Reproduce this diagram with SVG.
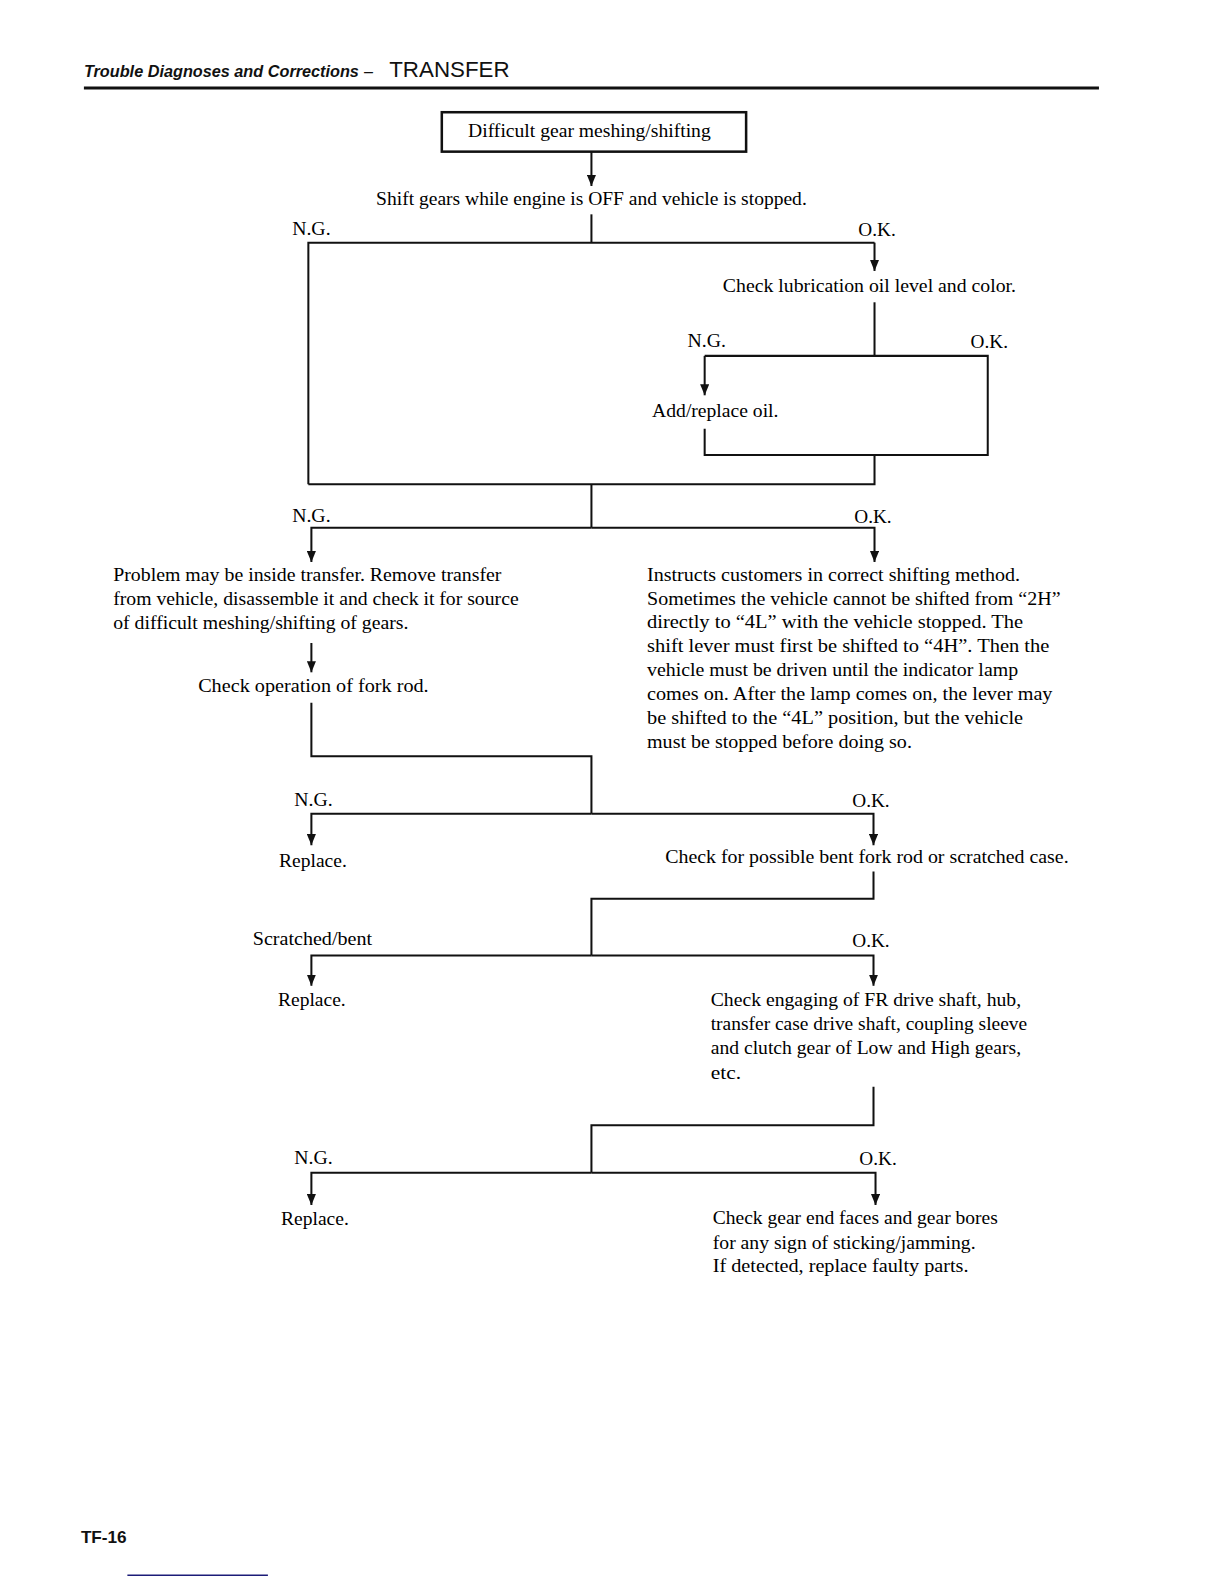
<svg xmlns="http://www.w3.org/2000/svg" width="1224" height="1584" viewBox="0 0 1224 1584">
<style>
.t{font-family:"Liberation Serif","Times New Roman",serif;font-size:18px;fill:#000}
.c{fill:none;stroke:#111;stroke-width:2}
.a{fill:none;stroke:#111;stroke-width:2;marker-end:url(#ah)}
</style>
<defs>
<marker id="ah" markerUnits="userSpaceOnUse" markerWidth="11" markerHeight="9" refX="10" refY="5" orient="auto" viewBox="0 0 10 10" preserveAspectRatio="none">
<path d="M0,0 L10,5 L0,10 z" fill="#111"/>
</marker>
</defs>
<rect width="1224" height="1584" fill="#fff"/>
<g transform="scale(1.011)">
<g id="header">
<text x="83" y="76" font-family="Liberation Sans,Arial,sans-serif" font-size="16" font-weight="bold" font-style="italic" fill="#111" textLength="272" lengthAdjust="spacingAndGlyphs">Trouble Diagnoses and Corrections</text>
<text x="360" y="76" font-family="Liberation Sans,Arial,sans-serif" font-size="16" fill="#111">–</text>
<text x="385" y="76" font-family="Liberation Sans,Arial,sans-serif" font-size="21" fill="#111" textLength="119" lengthAdjust="spacingAndGlyphs">TRANSFER</text>
<line x1="83" y1="87" x2="1087" y2="87" stroke="#111" stroke-width="3"/>
</g>
<g id="connectors">
<path class="a" d="M585,150 V184"/>
<path class="c" d="M585,212 V240"/>
<path class="c" d="M305,479 V240 H865"/>
<path class="a" d="M865,240 V268"/>
<path class="c" d="M865,299 V352"/>
<path class="c" d="M697,424 V450 H977 V352 H697"/>
<path class="a" d="M697,352 V391"/>
<path class="c" d="M865,450 V479 H305"/>
<path class="c" d="M585,479 V522"/>
<path class="a" d="M585,522 H308 V556"/>
<path class="a" d="M585,522 H865 V556"/>
<path class="a" d="M308,636 V665"/>
<path class="c" d="M308,695 V748 H585 V805"/>
<path class="a" d="M585,805 H308 V836"/>
<path class="a" d="M585,805 H864 V836"/>
<path class="c" d="M864,862 V889 H585 V945"/>
<path class="a" d="M585,945 H308 V975"/>
<path class="a" d="M585,945 H864 V975"/>
<path class="c" d="M864,1075 V1113 H585 V1160"/>
<path class="a" d="M585,1160 H308 V1192"/>
<path class="a" d="M585,1160 H866 V1192"/>
</g>
<g id="n_start">
<rect x="437" y="111" width="301" height="39" fill="none" stroke="#111" stroke-width="2.5"/>
<text class="t" x="583" y="136" text-anchor="middle" textLength="240" lengthAdjust="spacingAndGlyphs">Difficult gear meshing/shifting</text>
</g>
<g id="n_shift">
<text class="t" x="372" y="203" textLength="426" lengthAdjust="spacingAndGlyphs">Shift gears while engine is OFF and vehicle is stopped.</text>
<text class="t" x="289" y="232" textLength="38" lengthAdjust="spacingAndGlyphs">N.G.</text>
<text class="t" x="849" y="233" textLength="37" lengthAdjust="spacingAndGlyphs">O.K.</text>
</g>
<g id="n_lube">
<text class="t" x="715" y="289" textLength="290" lengthAdjust="spacingAndGlyphs">Check lubrication oil level and color.</text>
<text class="t" x="680" y="343" textLength="38" lengthAdjust="spacingAndGlyphs">N.G.</text>
<text class="t" x="960" y="344" textLength="37" lengthAdjust="spacingAndGlyphs">O.K.</text>
</g>
<g id="n_oil">
<text class="t" x="645" y="412" textLength="125" lengthAdjust="spacingAndGlyphs">Add/replace oil.</text>
</g>
<g id="n_labels2">
<text class="t" x="289" y="516" textLength="38" lengthAdjust="spacingAndGlyphs">N.G.</text>
<text class="t" x="845" y="517" textLength="37" lengthAdjust="spacingAndGlyphs">O.K.</text>
</g>
<g id="n_problem">
<text class="t" x="112" y="575" textLength="384" lengthAdjust="spacingAndGlyphs">Problem may be inside transfer. Remove transfer</text>
<text class="t" x="112" y="598" textLength="401" lengthAdjust="spacingAndGlyphs">from vehicle, disassemble it and check it for source</text>
<text class="t" x="112" y="622" textLength="292" lengthAdjust="spacingAndGlyphs">of difficult meshing/shifting of gears.</text>
</g>
<g id="n_instruct">
<text class="t" x="640" y="575" textLength="369" lengthAdjust="spacingAndGlyphs">Instructs customers in correct shifting method.</text>
<text class="t" x="640" y="598" textLength="409" lengthAdjust="spacingAndGlyphs">Sometimes the vehicle cannot be shifted from “2H”</text>
<text class="t" x="640" y="621" textLength="372" lengthAdjust="spacingAndGlyphs">directly to “4L” with the vehicle stopped.  The</text>
<text class="t" x="640" y="645" textLength="398" lengthAdjust="spacingAndGlyphs">shift lever must first be shifted to “4H”.  Then the</text>
<text class="t" x="640" y="669" textLength="367" lengthAdjust="spacingAndGlyphs">vehicle must be driven until the indicator lamp</text>
<text class="t" x="640" y="692" textLength="401" lengthAdjust="spacingAndGlyphs">comes on.  After the lamp comes on, the lever may</text>
<text class="t" x="640" y="716" textLength="372" lengthAdjust="spacingAndGlyphs">be shifted to the “4L” position, but the vehicle</text>
<text class="t" x="640" y="740" textLength="262" lengthAdjust="spacingAndGlyphs">must be stopped before doing so.</text>
</g>
<g id="n_forkop">
<text class="t" x="196" y="684" textLength="228" lengthAdjust="spacingAndGlyphs">Check operation of fork rod.</text>
<text class="t" x="291" y="797" textLength="38" lengthAdjust="spacingAndGlyphs">N.G.</text>
<text class="t" x="843" y="798" textLength="37" lengthAdjust="spacingAndGlyphs">O.K.</text>
</g>
<g id="n_replace1">
<text class="t" x="276" y="858" textLength="67" lengthAdjust="spacingAndGlyphs">Replace.</text>
</g>
<g id="n_bent">
<text class="t" x="658" y="854" textLength="399" lengthAdjust="spacingAndGlyphs">Check for possible bent fork rod or scratched case.</text>
<text class="t" x="250" y="935" textLength="118" lengthAdjust="spacingAndGlyphs">Scratched/bent</text>
<text class="t" x="843" y="937" textLength="37" lengthAdjust="spacingAndGlyphs">O.K.</text>
</g>
<g id="n_replace2">
<text class="t" x="275" y="995" textLength="67" lengthAdjust="spacingAndGlyphs">Replace.</text>
</g>
<g id="n_engage">
<text class="t" x="703" y="995" textLength="307" lengthAdjust="spacingAndGlyphs">Check engaging of FR drive shaft, hub,</text>
<text class="t" x="703" y="1019" textLength="313" lengthAdjust="spacingAndGlyphs">transfer case drive shaft, coupling sleeve</text>
<text class="t" x="703" y="1043" textLength="307" lengthAdjust="spacingAndGlyphs">and clutch gear of Low and High gears,</text>
<text class="t" x="703" y="1067" textLength="30" lengthAdjust="spacingAndGlyphs">etc.</text>
<text class="t" x="291" y="1151" textLength="38" lengthAdjust="spacingAndGlyphs">N.G.</text>
<text class="t" x="850" y="1152" textLength="37" lengthAdjust="spacingAndGlyphs">O.K.</text>
</g>
<g id="n_replace3">
<text class="t" x="278" y="1212" textLength="67" lengthAdjust="spacingAndGlyphs">Replace.</text>
</g>
<g id="n_gearend">
<text class="t" x="705" y="1211" textLength="282" lengthAdjust="spacingAndGlyphs">Check gear end faces and gear bores</text>
<text class="t" x="705" y="1235" textLength="260" lengthAdjust="spacingAndGlyphs">for any sign of sticking/jamming.</text>
<text class="t" x="705" y="1258" textLength="253" lengthAdjust="spacingAndGlyphs">If detected, replace faulty parts.</text>
</g>
<g id="footer">
<text x="80" y="1526" font-family="Liberation Sans,Arial,sans-serif" font-size="17" font-weight="bold" fill="#111">TF-16</text>
<line x1="126" y1="1558" x2="265" y2="1558" stroke="#1c1c78" stroke-width="1.5"/>
</g>
</g>
</svg>
